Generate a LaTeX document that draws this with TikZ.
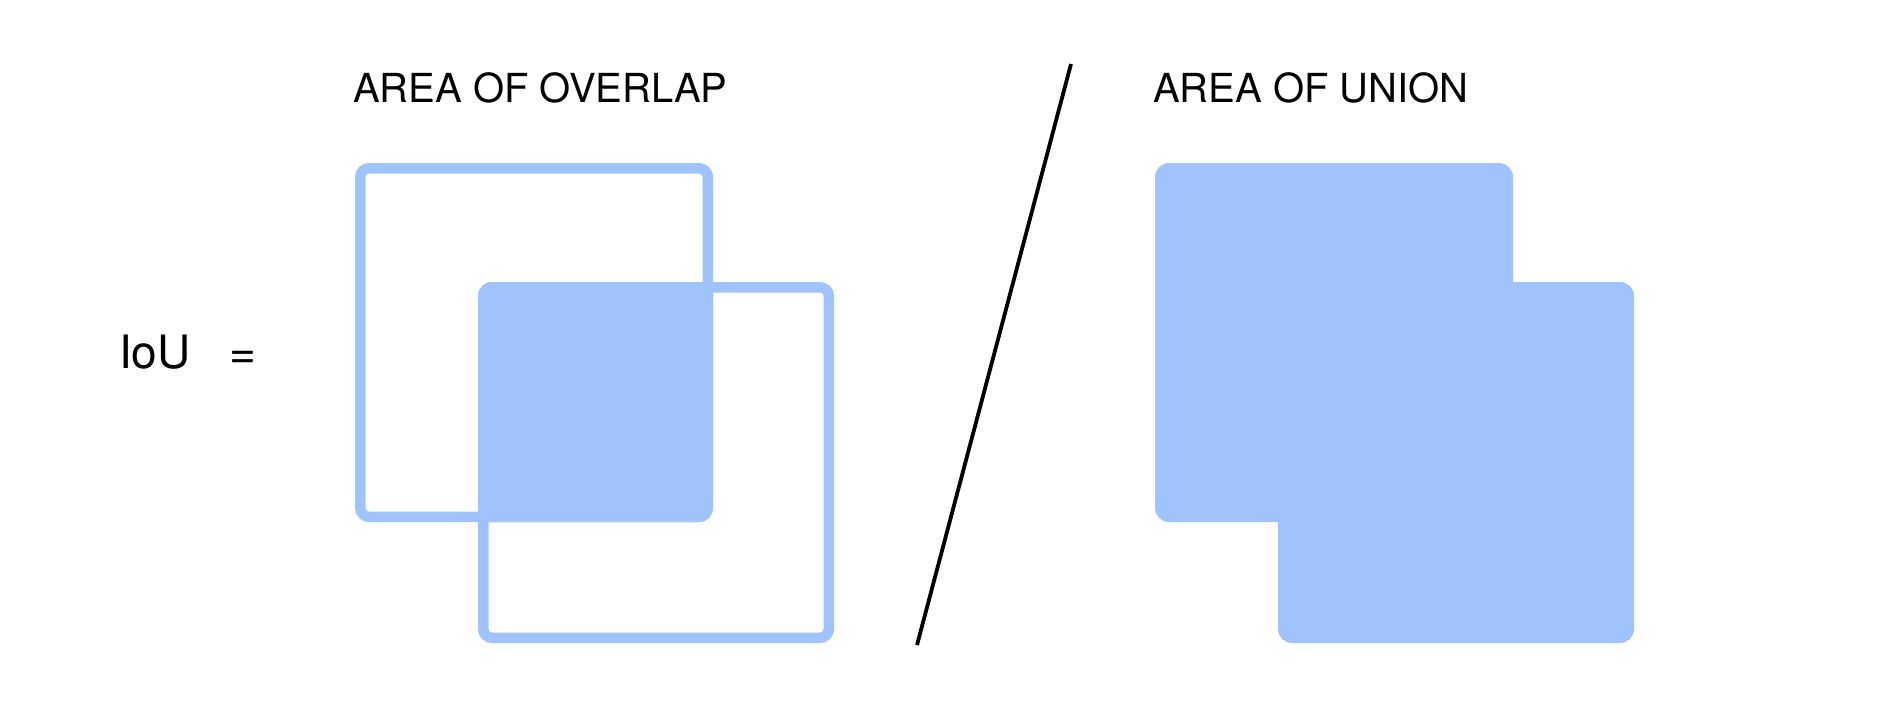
\documentclass[tikz,border=0pt]{standalone}
\usepackage{fontspec}
\setmainfont{TeX Gyre Heros}
\definecolor{boxblue}{RGB}{161,195,253}
\begin{document}
\begin{tikzpicture}[x=1pt,y=-1pt,
  lbl/.style={inner sep=0pt,outer sep=0pt,anchor=base west,font=\fontsize{40}{48}\selectfont},
  big/.style={inner sep=0pt,outer sep=0pt,anchor=base west,font=\fontsize{46}{55}\selectfont},
  outline/.style={draw=boxblue,line width=10.5pt,rounded corners=8.75pt},
  solid/.style={fill=boxblue,rounded corners=14pt}]
\useasboundingbox (0,0) rectangle (1878,705);
\fill[white] (0,0) rectangle (1878,705);
% labels
\node[big] (iou) at (119,368) {IoU};
\node[big,anchor=base] (eq) at (242.5,368) {=};
\node[lbl] (ovl) at (353,102) {AREA OF OVERLAP};
\node[lbl] (uni) at (1153,102) {AREA OF UNION};
% overlap picture
\begin{scope}
  \clip[rounded corners=14pt] (355,163) rectangle (713,522);
  \fill[boxblue,rounded corners=14pt] (478,282) rectangle (834,643);
\end{scope}
\draw[outline] (360.25,168.25) rectangle (707.75,516.75);
\draw[outline] (483.25,287.25) rectangle (828.75,637.75);
% division line
\coordinate (ltop) at (1071,64);
\coordinate (lbot) at (917,645);
\draw[line width=3.8pt] (ltop) -- (lbot);
% union picture
\fill[solid] (1155,163) rectangle (1513,522);
\fill[solid] (1278,282) rectangle (1634,643);
\end{tikzpicture}
\end{document}
